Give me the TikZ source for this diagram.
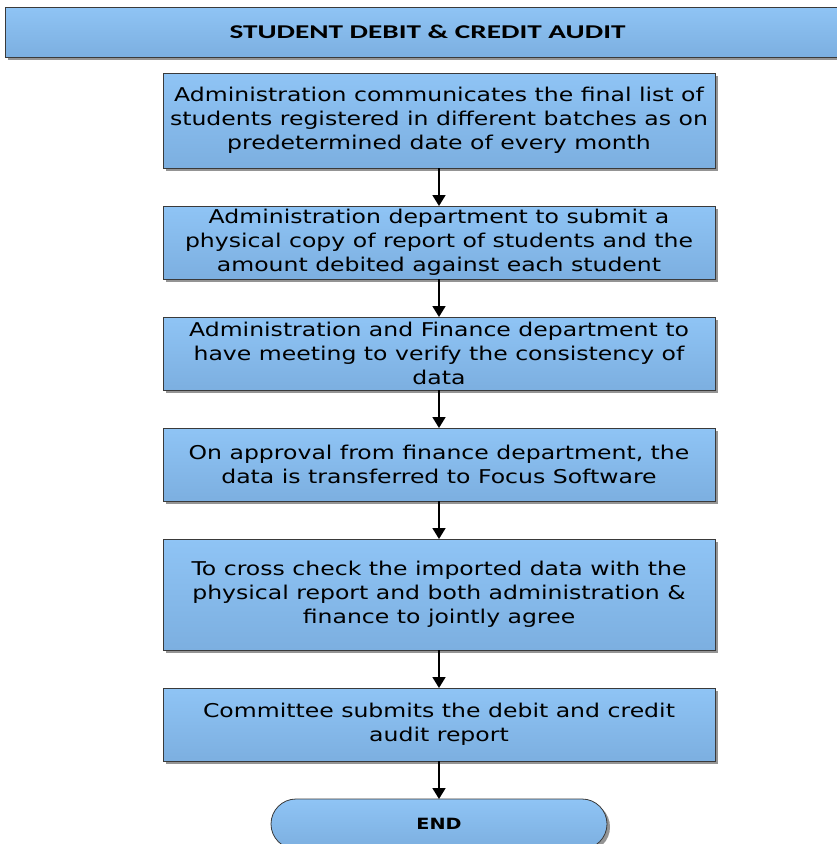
\documentclass[tikz,border=0pt]{standalone}
\usepackage{fontspec}
\setmainfont{DejaVu Sans}[FakeStretch=1.24]
\newfontfamily\headfont{Carlito}[FakeStretch=1.5]
\usetikzlibrary{positioning,shadows,arrows.meta,shapes.misc}

\definecolor{boxtop}{HTML}{8FC4F5}
\definecolor{boxbot}{HTML}{7CAFE0}
\definecolor{boxline}{HTML}{3A3A3A}

\tikzset{
  fillbox/.style={draw=boxline, line width=0.8pt, top color=boxtop, bottom color=boxbot,
    drop shadow={shadow xshift=3pt, shadow yshift=-3pt, opacity=0.6, fill=black!70},
    outer sep=0pt},
  proc/.style={fillbox, minimum width=552pt, minimum height=73pt,
    align=center, inner sep=0pt, font=\fontsize{19}{24}\selectfont},
  title/.style={fillbox, minimum width=845pt, minimum height=50pt, inner sep=0pt,
    font=\headfont\bfseries\fontsize{19.5}{22}\selectfont},
  term/.style={fillbox, rounded rectangle, minimum width=336pt, minimum height=50pt,
    inner sep=0pt, font=\bfseries\fontsize{15.5}{18}\selectfont},
  flow/.style={line width=1.8pt, -{Triangle[width=13pt,length=11pt]}}
}

\begin{document}
\begin{tikzpicture}[x=1pt,y=1pt, node distance=38pt]

            \useasboundingbox (0,0) rectangle (836,-844);

            \node[title, anchor=north west] (head) at (5,-7) {STUDENT DEBIT \& CREDIT AUDIT};
            \node[proc, minimum height=95pt, anchor=north] (list) at (439,-73)
              {Administration communicates the final list of\\ students registered in different batches as on\\ predetermined date of every month};
            \node[proc, below=of list] (report)
              {Administration department to submit a\\ physical copy of report of students and the\\ amount debited against each student};
            \node[proc, below=of report] (meet)
              {Administration and Finance department to\\ have meeting to verify the consistency of\\ data};
            \node[proc, below=of meet] (focus)
              {On approval from finance department, the\\ data is transferred to Focus Software};
            \node[proc, minimum height=111pt, below=of focus] (check)
              {To cross check the imported data with the\\ physical report and both administration \&\\ finance to jointly agree};
            \node[proc, below=of check] (audit)
              {Committee submits the debit and credit\\ audit report};
            \node[term, below=of audit] (stop) {END};

            \draw[flow] (list) -- (report);
            \draw[flow] (report) -- (meet);
            \draw[flow] (meet) -- (focus);
            \draw[flow] (focus) -- (check);
            \draw[flow] (check) -- (audit);
            \draw[flow] (audit) -- (stop);

        \end{tikzpicture}
\end{document}
